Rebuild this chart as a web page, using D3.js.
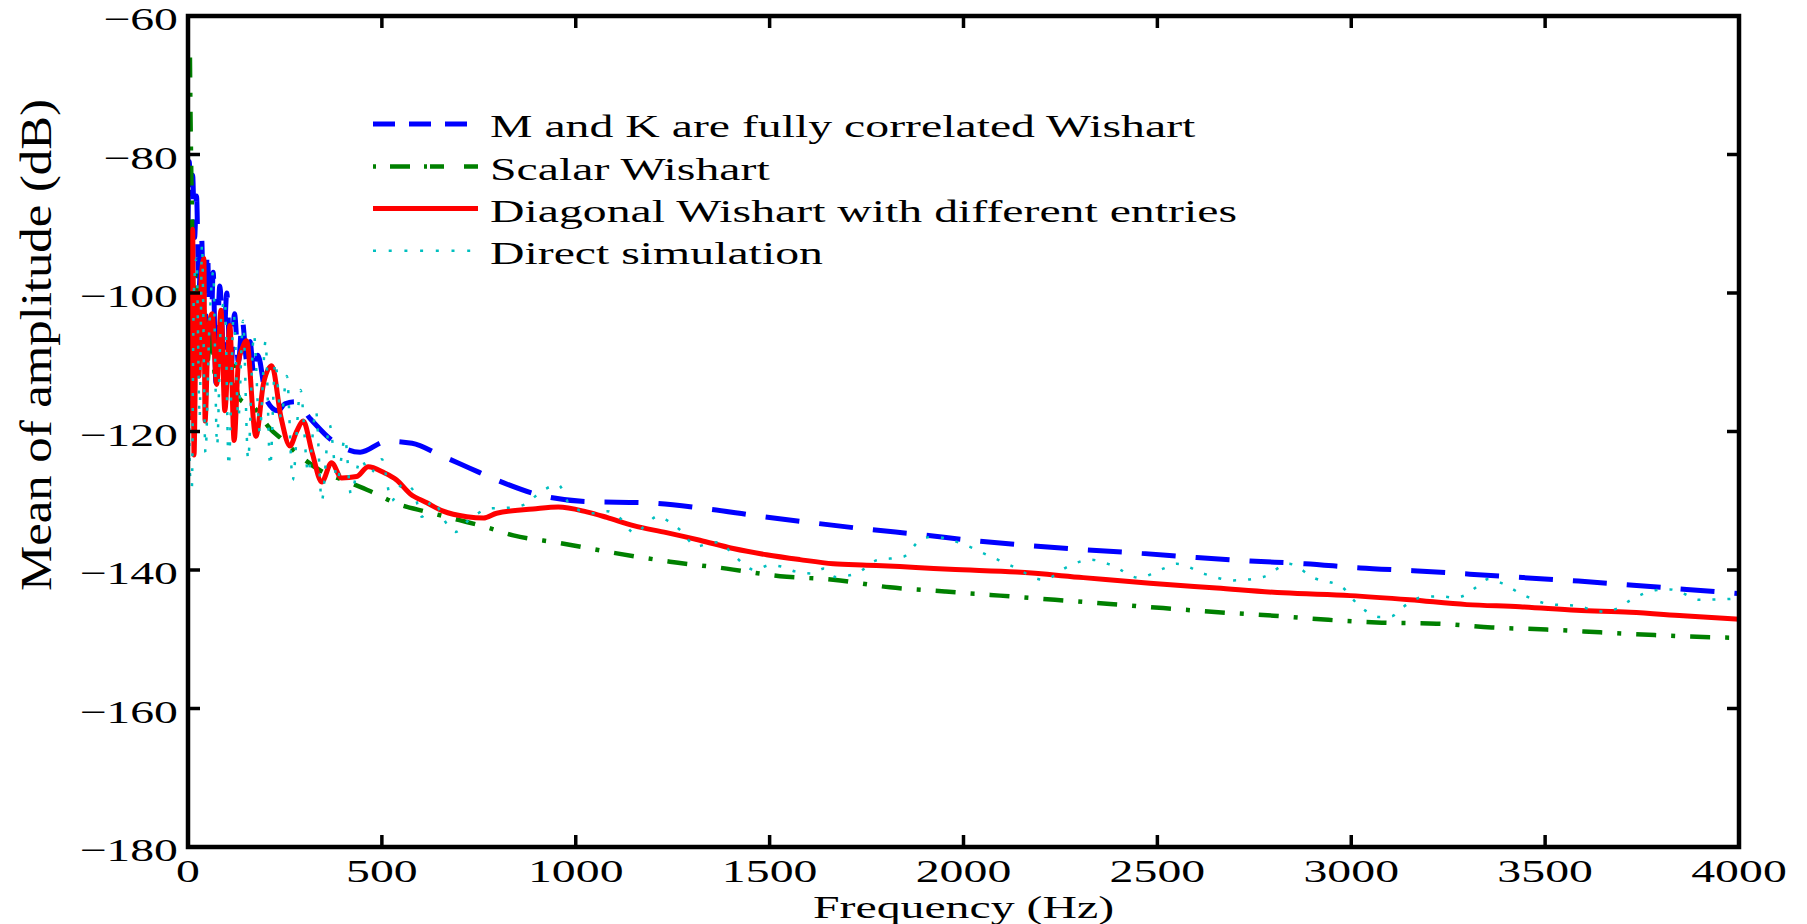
<!DOCTYPE html>
<html>
<head>
<meta charset="utf-8">
<script src="https://cdn.jsdelivr.net/npm/d3@7/dist/d3.min.js"></script>
<style>
html,body{margin:0;padding:0;background:#fff;}
svg{display:block;}
text{font-family:"Liberation Serif","Times New Roman",serif;fill:#000;}
</style>
</head>
<body>
<svg id="chart" width="1807" height="924"></svg>
<script>
// ---------------- data ----------------
const xTicks = [0, 500, 1000, 1500, 2000, 2500, 3000, 3500, 4000];
const yTicks = [-180, -160, -140, -120, -100, -80, -60];
const seriesNames = [
  "M and K are fully correlated Wishart",
  "Scalar Wishart",
  "Diagonal Wishart with different entries",
  "Direct simulation"
];

const blueFreq = [0,3,8,12,17,22,28,35,42,50,58,65,72,82,92,100,110,120,130,140,152,160,170,180,203,232,250,276,316,374,444,513,578,650,727,800,908,1024,1187,1329,1471,1613,1750,1892,2034,2176,2318,2460,2601,2739,2881,3023,3160,3306,3444,3586,3727,3865,4000];
const blueDb = [-90,-81,-86,-83,-92,-86,-100,-92,-108,-94,-110,-97,-113,-99,-108,-100,-112,-103,-110,-104,-110,-107,-112,-109,-115.5,-117,-116,-115.7,-118.2,-121.4,-123.0,-121.4,-121.7,-123.4,-125.3,-127.1,-129.2,-130.1,-130.3,-131.1,-132.2,-133.2,-134.1,-134.9,-135.8,-136.5,-137.1,-137.6,-138.2,-138.7,-139.1,-139.7,-140.1,-140.6,-141.1,-141.6,-142.2,-142.8,-143.4];

const greenFreq = [5,6,8,10,12,15,20,30,40,50,60,70,85,100,115,130,150,170,190,210,240,280,340,409,469,538,616,700,762,839,959,1106,1243,1389,1527,1664,1810,1952,2094,2236,2378,2515,2657,2799,2941,3079,3220,3362,3504,3642,3783,3925,4000];
const greenDb = [-66,-72,-81,-88,-95,-100,-97,-108,-102,-110,-104,-112,-107,-113,-110,-115,-116,-116.5,-118,-119.5,-121,-123.1,-125.6,-127.2,-128.6,-130.4,-131.6,-132.8,-133.7,-135.0,-136.1,-137.6,-138.8,-139.8,-140.9,-141.4,-142.5,-143.1,-143.7,-144.3,-144.9,-145.5,-146.1,-146.6,-147.2,-147.6,-147.75,-148.3,-148.6,-149.0,-149.4,-149.7,-149.8];

const redFreq = [0,5,12,15.5,22,28,34,41,44,52,62,74,85,95,108,119,130,140,151,175,195,216,240,263,280,297,320,345,370,396,435,465,504,538,573,616,658,719,762,796,890,955,1028,1080,1149,1234,1320,1406,1492,1578,1664,1750,1836,1900,1965,2137,2309,2481,2653,2825,2997,3151,3298,3435,3581,3719,3856,4000];
const redDb = [-100,-118,-90.8,-123.4,-100,-112,-98,-95,-118.5,-106,-103,-113.2,-102.5,-117,-104.7,-121.3,-110,-108,-106.9,-120.7,-113,-110.5,-118,-122.1,-120,-118.5,-123,-127.3,-124.5,-126.7,-126.5,-125.1,-125.9,-127,-129,-130.3,-131.5,-132.3,-132.5,-131.8,-131.2,-130.9,-131.6,-132.4,-133.6,-134.6,-135.7,-136.9,-137.8,-138.5,-139.1,-139.3,-139.5,-139.7,-139.9,-140.3,-141.1,-141.9,-142.6,-143.3,-143.7,-144.3,-145.0,-145.3,-145.8,-146.1,-146.6,-147.1];

const cyanFreq = [0,5,10,15,22,30,36,45,55,65,75,85,95,105,118,130,142,155,170,185,200,212,225,240,255,270,290,310,330,345,365,385,405,420,445,470,500,525,555,581,603,630,667,690,720,779,830,870,899,925,955,985,1045,1080,1110,1153,1183,1213,1240,1269,1312,1340,1370,1406,1462,1500,1530,1565,1610,1640,1669,1724,1776,1845,1888,1922,1991,2060,2128,2206,2270,2326,2382,2451,2515,2550,2623,2696,2773,2838,2906,2975,3014,3040,3074,3104,3130,3186,3229,3268,3298,3324,3354,3388,3440,3508,3581,3650,3689,3719,3788,3822,3861,3895,3972,4000];
const cyanDb = [-100,-126,-128,-100,-95,-118,-93,-123,-105,-97,-122,-104,-101,-125,-103,-118,-104,-124,-106,-120,-107,-125,-110,-118,-112,-127,-114,-126,-117,-130,-119,-127,-121,-129,-124,-126,-124,-130,-127.5,-128.5,-132.3,-130,-133.3,-134.5,-133,-131.1,-131,-130.5,-129.2,-128.2,-127.7,-130.6,-131.8,-131.5,-132.3,-134.7,-133.3,-132.2,-133,-134.2,-136.6,-136.2,-136,-137.8,-140.0,-139.3,-139.5,-140.2,-140.5,-139.8,-141.0,-140.5,-138.6,-138.1,-135.7,-135.2,-136.1,-137.8,-139.5,-141.4,-139.5,-138.5,-139.3,-141.1,-139.8,-139.1,-140.6,-141.5,-141.0,-139.1,-141.2,-142.4,-144.8,-146.0,-146.8,-146.7,-145.5,-143.9,-143.8,-144.0,-143.5,-142.4,-141.3,-141.9,-143.5,-144.9,-145.2,-146.0,-145.5,-144.4,-142.9,-142.8,-143.5,-144.3,-144.2,-144.0];

// ---------------- layout ----------------
const L = 188, R = 1739, T = 16, B = 847;
const FS = 32.5, SX = 1.47;

const svg = d3.select("#chart");
svg.append("rect").attr("width",1807).attr("height",924).attr("fill","#fff");

const x = d3.scaleLinear().domain([0,4000]).range([L,R]);
const y = d3.scaleLinear().domain([-180,-60]).range([B,T]);

svg.append("clipPath").attr("id","clip").append("rect")
  .attr("x",L).attr("y",T).attr("width",R-L).attr("height",B-T);

const zip = (a,b) => a.map((v,i)=>[v,b[i]]);
const line = d3.line().x(d=>x(d[0])).y(d=>y(d[1])).curve(d3.curveMonotoneX);

const styles = [
  {color:"#0000ff", width:5, dash:"34,20", legendDash:"22,14"},
  {color:"#008000", width:4.5, dash:"20,15,4,15", legendDash:"3,14,20,14,3"},
  {color:"#ff0000", width:5, dash:null, legendDash:null},
  {color:"#00bfbf", width:2.5, dash:"3,12", legendDash:"3,12.7"}
];
const seriesData = [
  zip(blueFreq, blueDb),
  zip(greenFreq, greenDb),
  zip(redFreq, redDb),
  zip(cyanFreq, cyanDb)
];

const plot = svg.append("g").attr("clip-path","url(#clip)");
seriesData.forEach((d,i)=>{
  plot.append("path").datum(d)
    .attr("d", line)
    .attr("fill","none")
    .attr("stroke", styles[i].color)
    .attr("stroke-width", styles[i].width)
    .attr("stroke-linejoin","round")
    .attr("stroke-dasharray", styles[i].dash);
});

// ---------------- axes ----------------
const axG = svg.append("g");
const tickLen = 12;
xTicks.forEach(t=>{
  axG.append("line").attr("x1",x(t)).attr("x2",x(t)).attr("y1",B).attr("y2",B-tickLen)
    .attr("stroke","#000").attr("stroke-width",3.5);
  axG.append("line").attr("x1",x(t)).attr("x2",x(t)).attr("y1",T).attr("y2",T+tickLen)
    .attr("stroke","#000").attr("stroke-width",3.5);
  axG.append("text")
    .attr("transform",`translate(${x(t)},882) scale(${SX},1)`)
    .attr("text-anchor","middle").attr("font-size",FS)
    .text(String(t));
});
yTicks.forEach(t=>{
  axG.append("line").attr("x1",L).attr("x2",L+tickLen).attr("y1",y(t)).attr("y2",y(t))
    .attr("stroke","#000").attr("stroke-width",3.5);
  axG.append("line").attr("x1",R).attr("x2",R-tickLen).attr("y1",y(t)).attr("y2",y(t))
    .attr("stroke","#000").attr("stroke-width",3.5);
  axG.append("text")
    .attr("transform",`translate(178,${y(t)+14}) scale(${SX},1)`)
    .attr("text-anchor","end").attr("font-size",FS)
    .text(String(t).replace("-","\u2212"));
});
axG.append("rect").attr("x",L).attr("y",T).attr("width",R-L).attr("height",B-T)
  .attr("fill","none").attr("stroke","#000").attr("stroke-width",4.5);

// axis labels
svg.append("text")
  .attr("transform",`translate(${(L+R)/2},918) scale(${SX*32.5/31},1)`)
  .attr("text-anchor","middle").attr("font-size",31)
  .text("Frequency (Hz)");
svg.append("text")
  .attr("transform","translate(51,345) rotate(-90)")
  .attr("text-anchor","middle").attr("font-size",45)
  .attr("textLength",492).attr("lengthAdjust","spacingAndGlyphs")
  .text("Mean of amplitude (dB)");

// ---------------- legend ----------------
const legY = [124, 166.5, 208.6, 250.7];
const leg = svg.append("g");
seriesNames.forEach((name,i)=>{
  leg.append("line").attr("x1",373).attr("x2",478).attr("y1",legY[i]).attr("y2",legY[i])
    .attr("stroke",styles[i].color).attr("stroke-width",styles[i].width)
    .attr("stroke-dasharray",styles[i].legendDash);
  leg.append("text")
    .attr("transform",`translate(490,${legY[i]+13}) scale(${SX},1)`)
    .attr("font-size",FS)
    .text(name);
});
</script>
</body>
</html>
